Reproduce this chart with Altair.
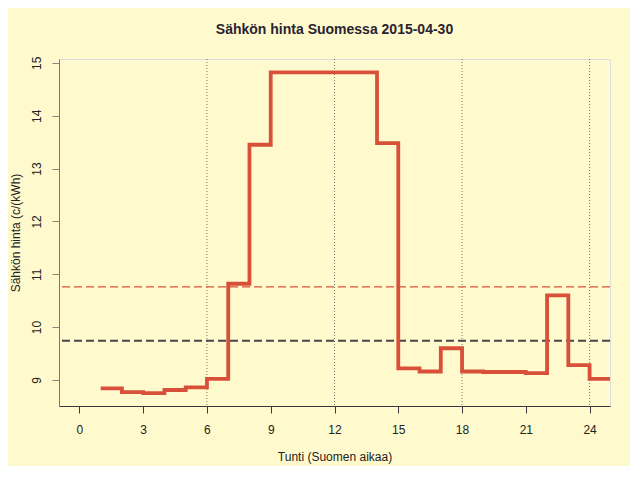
import altair as alt
import pandas as pd

hours = list(range(1, 26))
prices = [8.84, 8.77, 8.75, 8.81, 8.86, 9.02, 10.82, 13.45, 14.82, 14.82,
          14.82, 14.82, 14.82, 13.48, 9.22, 9.16, 9.60, 9.16, 9.15, 9.15,
          9.13, 10.60, 9.28, 9.02, 9.02]
mean_today = 10.76
mean_ref = 9.74
grid_hours = [6, 12, 18, 24]
x_ticks = [0, 3, 6, 9, 12, 15, 18, 21, 24]
y_ticks = [9, 10, 11, 12, 13, 14, 15]

df = pd.DataFrame({"h": hours, "p": prices})
grid_df = pd.DataFrame({"h": grid_hours})
ref_df = pd.DataFrame({"v": [mean_today, mean_ref], "k": ["today", "ref"]})

xs = alt.Scale(domain=[-0.96, 24.96], nice=False, zero=False)
ys = alt.Scale(domain=[8.507, 15.073], nice=False, zero=False)

FONT = "Liberation Sans"

xaxis = alt.Axis(values=x_ticks, title="Tunti (Suomen aikaa)", grid=False,
                 tickSize=7, tickColor="#3c3642", domainColor="#3c3642",
                 labelPadding=11, labelFontSize=12, labelColor="#222",
                 titleFontSize=12, titleFontWeight="normal", titlePadding=16,
                 titleColor="#222", labelFont=FONT, titleFont=FONT)
yaxis = alt.Axis(values=y_ticks, title="Sähkön hinta (c/(kWh)", grid=False,
                 tickSize=7, tickColor="#8a8478", domainColor="#7d776b",
                 labelAngle=-90, labelPadding=9, labelFontSize=12, labelColor="#222",
                 titleFontSize=12, titleFontWeight="normal", titlePadding=8,
                 titleColor="#222", labelFont=FONT, titleFont=FONT)

grid = alt.Chart(grid_df).mark_rule(color="#555", strokeWidth=0.8, strokeDash=[1, 2]).encode(
    x=alt.X("h:Q", scale=xs, axis=xaxis)
)

line = alt.Chart(df).mark_line(interpolate="step-after", color="#d9503a",
                               strokeWidth=3.8, clip=True, strokeJoin="miter",
                               strokeCap="butt").encode(
    x=alt.X("h:Q", scale=xs, axis=xaxis),
    y=alt.Y("p:Q", scale=ys, axis=yaxis),
)

ref_red = alt.Chart(ref_df[ref_df.k == "today"]).mark_rule(
    color="#d9503a", strokeWidth=1.3, strokeDash=[8, 4]).encode(
    y=alt.Y("v:Q", scale=ys, axis=yaxis)
)
ref_black = alt.Chart(ref_df[ref_df.k == "ref"]).mark_rule(
    color="#4a4448", strokeWidth=2, strokeDash=[8, 4]).encode(
    y=alt.Y("v:Q", scale=ys, axis=yaxis)
)

chart = alt.layer(grid, ref_red, ref_black, line).properties(
    width=551, height=347,
    autosize=alt.AutoSizeParams(type="none"),
    padding={"left": 51, "top": 51, "right": 20, "bottom": 60},
    background="#FFFACD",
    title=alt.TitleParams("Sähkön hinta Suomessa 2015-04-30", fontSize=14,
                          fontWeight="bold", font=FONT, color="#2a2330",
                          frame="group", offset=19, anchor="middle"),
).configure_view(stroke="#a39e8a", strokeWidth=1.2).configure(font=FONT)

chart.save("out.html", embed_options={"renderer": "svg", "actions": False})
